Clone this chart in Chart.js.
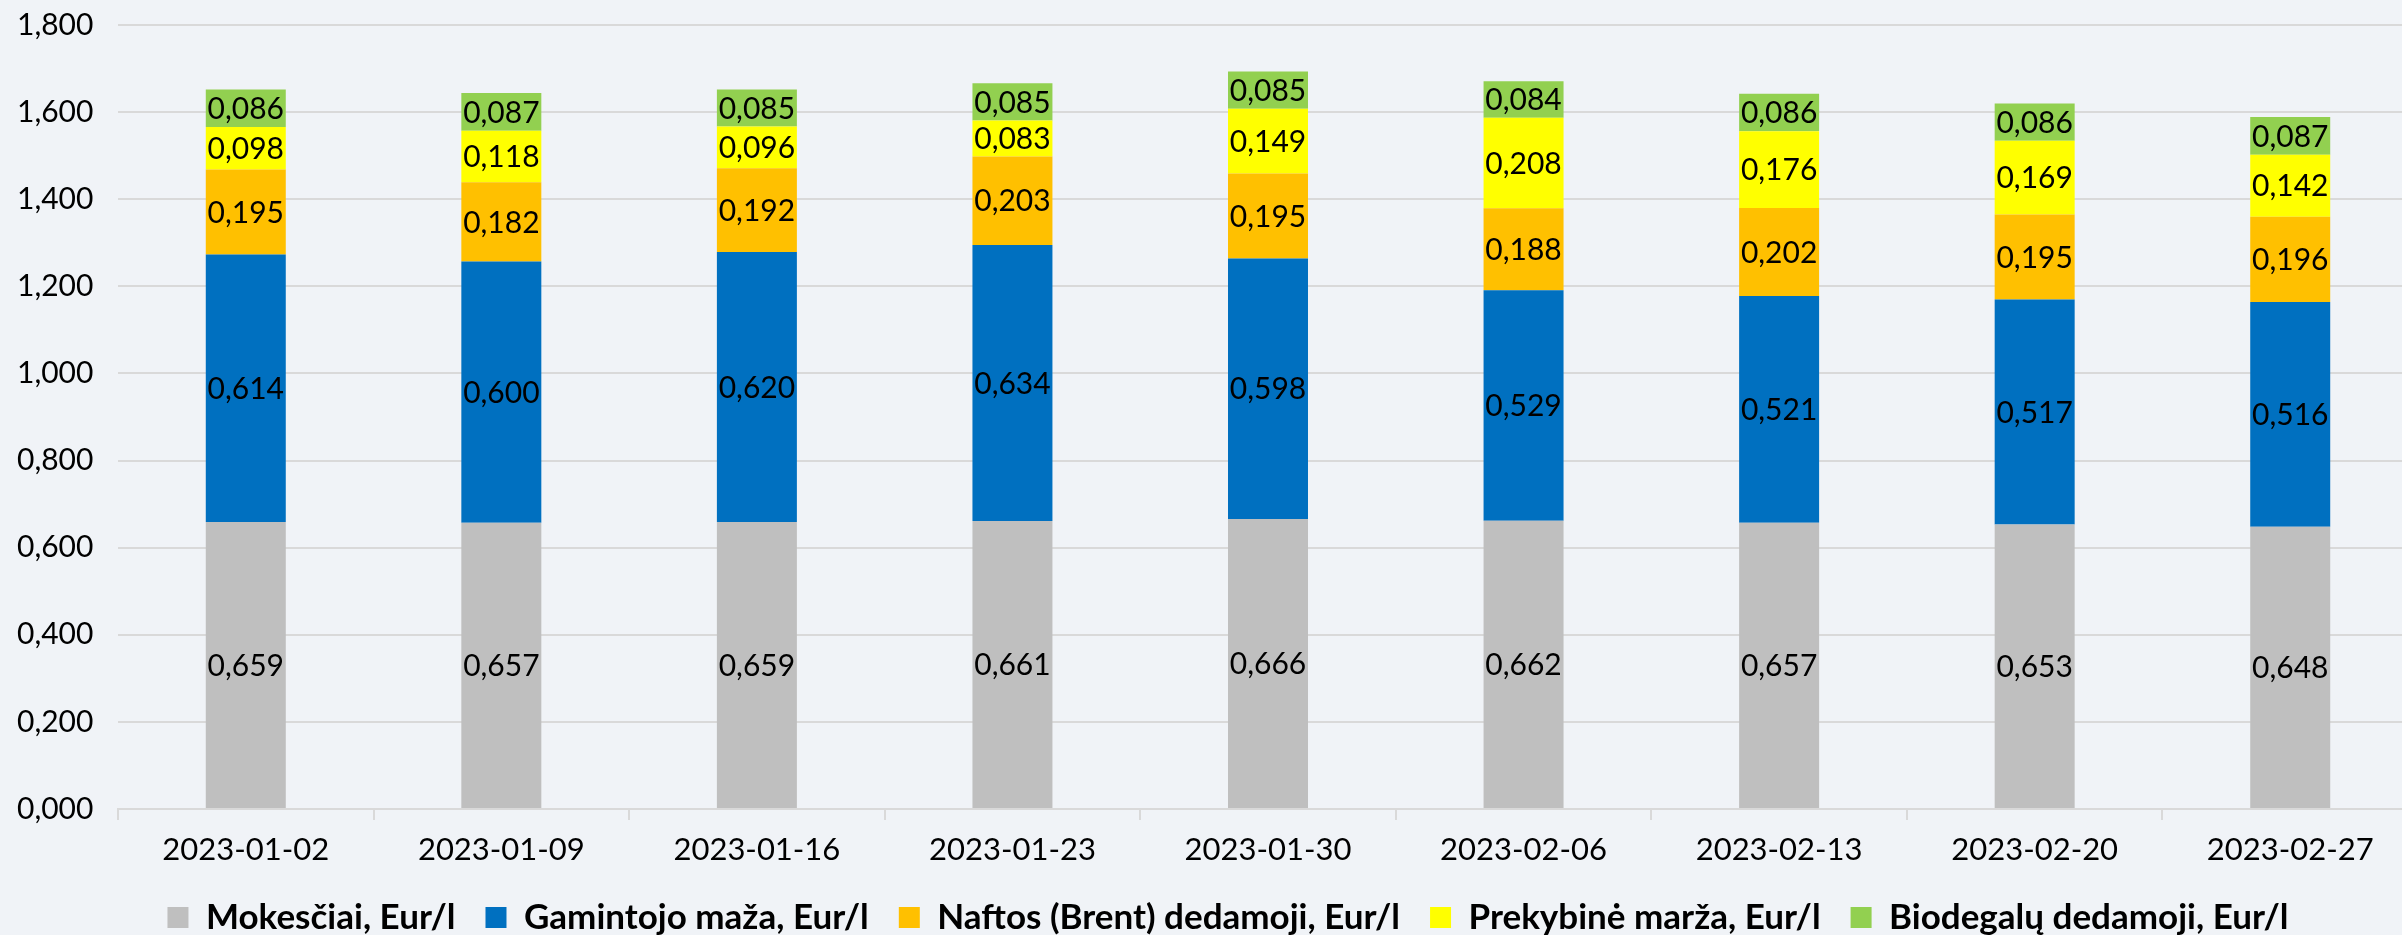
<!DOCTYPE html>
<html>
<head>
<meta charset="utf-8">
<script src="https://cdn.jsdelivr.net/npm/chart.js@4/dist/chart.umd.min.js"></script>
<style>
  html, body { margin: 0; padding: 0; background: #F0F3F7; overflow: hidden; }
  #wrap { width: 2439px; height: 935px; }
</style>
</head>
<body>
<div id="wrap"><canvas id="chart" width="2439" height="935"></canvas></div>
<script>
const weeks = ['2023-01-02', '2023-01-09', '2023-01-16', '2023-01-23', '2023-01-30', '2023-02-06', '2023-02-13', '2023-02-20', '2023-02-27'];
const mokesciai = [0.659, 0.657, 0.659, 0.661, 0.666, 0.662, 0.657, 0.653, 0.648];
const gamintojo = [0.614, 0.600, 0.620, 0.634, 0.598, 0.529, 0.521, 0.517, 0.516];
const naftos = [0.195, 0.182, 0.192, 0.203, 0.195, 0.188, 0.202, 0.195, 0.196];
const prekybine = [0.098, 0.118, 0.096, 0.083, 0.149, 0.208, 0.176, 0.169, 0.142];
const biodegalu = [0.086, 0.087, 0.085, 0.085, 0.085, 0.084, 0.086, 0.086, 0.087];
const yTicks = [0, 0.2, 0.4, 0.6, 0.8, 1.0, 1.2, 1.4, 1.6, 1.8];

const fmt = (v) => v.toFixed(3).replace('.', ',');
const FONT = 'Lato, "Liberation Sans", sans-serif';

// paint the page colour behind the chart
const bgPlugin = {
    id: 'bg',
    beforeDraw(chart) {
        const { ctx, width, height } = chart;
        ctx.save();
        ctx.fillStyle = '#F0F3F7';
        ctx.fillRect(0, 0, width, height);
        ctx.restore();
    }
};

// value labels in the middle of each segment
const segLabels = {
    id: 'segLabels',
    afterDatasetsDraw(chart) {
        const { ctx } = chart;
        ctx.save();
        ctx.font = `30px ${FONT}`;
        ctx.fillStyle = '#000';
        ctx.textAlign = 'center';
        ctx.textBaseline = 'middle';
        chart.data.datasets.forEach((ds, i) => {
            chart.getDatasetMeta(i).data.forEach((bar, j) => {
                const { x, y, base } = bar.getProps(['x', 'y', 'base'], true);
                ctx.fillText(fmt(ds.data[j]), x, (y + base) / 2 + 1);
            });
        });
        ctx.restore();
    }
};

const mk = (label, data, color) => ({
    label, data, backgroundColor: color, borderWidth: 0,
    barPercentage: 0.313, categoryPercentage: 1
});

new Chart(document.getElementById('chart'), {
    type: 'bar',
    data: {
        labels: weeks,
        datasets: [
            mk('Mokesčiai, Eur/l', mokesciai, '#BFBFBF'),
            mk('Gamintojo maža, Eur/l', gamintojo, '#0070C0'),
            mk('Naftos (Brent) dedamoji, Eur/l', naftos, '#FFC000'),
            mk('Prekybinė marža, Eur/l', prekybine, '#FFFF00'),
            mk('Biodegalų dedamoji, Eur/l', biodegalu, '#92D050')
        ]
    },
    options: {
        responsive: false,
        animation: false,
        devicePixelRatio: 1,
        layout: { padding: { left: 17, right: 0, top: 25, bottom: -10 } },
        plugins: {
            legend: {
                position: 'bottom',
                labels: {
                    color: '#000',
                    font: { family: FONT, size: 35, weight: 'bold' },
                    boxWidth: 21, boxHeight: 21, padding: 30
                }
            },
            tooltip: { enabled: false }
        },
        scales: {
            x: {
                stacked: true,
                afterFit(scale) { scale.height = 61; },
                grid: { display: true, drawOnChartArea: false, drawTicks: true, tickLength: 11, color: '#D9D9D9', lineWidth: 2 },
                border: { display: true, color: '#D9D9D9', width: 2 },
                ticks: { color: '#000', font: { family: FONT, size: 31 }, padding: 11, maxRotation: 0 }
            },
            y: {
                stacked: true,
                min: 0, max: 1.8,
                afterFit(scale) { scale.width = 101; },
                afterBuildTicks(scale) { scale.ticks = yTicks.map(v => ({ value: v })); },
                grid: { color: '#D9D9D9', lineWidth: 2, drawTicks: false },
                border: { display: false },
                ticks: { color: '#000', font: { family: FONT, size: 30 }, padding: 0, crossAlign: 'far', callback: (v) => fmt(v) }
            },
            // empty strip on the right, the plot runs past the picture edge
            edge: {
                position: 'right',
                afterFit(scale) { scale.width = 21; },
                grid: { display: false },
                border: { display: false },
                ticks: { display: false }
            }
        }
    },
    plugins: [bgPlugin, segLabels]
});
</script>
</body>
</html>
